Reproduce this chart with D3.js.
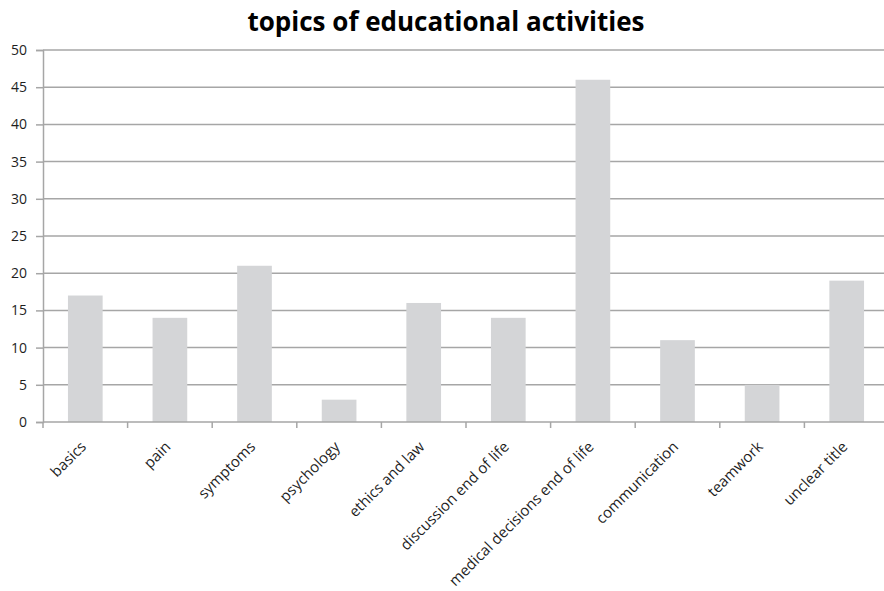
<!DOCTYPE html>
<html>
<head>
<meta charset="utf-8">
<script src="https://cdn.jsdelivr.net/npm/d3@7"></script>
<style>
  html, body { margin: 0; padding: 0; background: #ffffff; }
  svg { display: block; }
</style>
</head>
<body>
<svg id="chart" width="884" height="591"></svg>
<script>
const categories = ["basics", "pain", "symptoms", "psychology", "ethics and law",
  "discussion end of life", "medical decisions end of life", "communication",
  "teamwork", "unclear title"];
const counts = [17, 14, 21, 3, 16, 14, 46, 11, 5, 19];
const yTicks = [0, 5, 10, 15, 20, 25, 30, 35, 40, 45, 50];
const chartTitle = "topics of educational activities";

const svg = d3.select("#chart");
const font = "'Open Sans', 'Liberation Sans', sans-serif";

const x = d3.scaleBand().domain(categories).range([43, 889]).paddingInner(0.59).paddingOuter(0.295);
const band = d3.scaleBand().domain(categories).range([43, 889]);
const y = d3.scaleLinear().domain([0, 50]).range([422, 50]);

// horizontal gridlines
svg.append("g").selectAll("line").data(yTicks.filter(d => d > 0)).join("line")
  .attr("x1", 43).attr("x2", 884)
  .attr("y1", d => y(d)).attr("y2", d => y(d))
  .attr("stroke", "#a6a6a6").attr("stroke-width", 1.5);

// bars
svg.append("g").selectAll("rect").data(categories).join("rect")
  .attr("x", d => x(d))
  .attr("width", x.bandwidth())
  .attr("y", (d, i) => y(counts[i]))
  .attr("height", (d, i) => y(0) - y(counts[i]))
  .attr("fill", "#d4d5d7");

// y axis
const yAxis = svg.append("g").attr("transform", "translate(43,0)")
  .call(d3.axisLeft(y).tickValues(yTicks).tickSize(7).tickPadding(9));
yAxis.select(".domain").attr("stroke", "#a6a6a6").attr("stroke-width", 1.5);
yAxis.selectAll(".tick line").attr("stroke", "#a6a6a6").attr("stroke-width", 1.5);
yAxis.selectAll(".tick text").attr("font-family", font).attr("font-size", 14).attr("fill", "#1e1e1e");

// x axis baseline and boundary ticks
svg.append("line").attr("x1", 43).attr("x2", 884).attr("y1", y(0)).attr("y2", y(0))
  .attr("stroke", "#a6a6a6").attr("stroke-width", 1.5);
svg.append("g").selectAll("line").data(categories).join("line")
  .attr("x1", d => band(d)).attr("x2", d => band(d))
  .attr("y1", y(0)).attr("y2", y(0) + 6)
  .attr("stroke", "#a6a6a6").attr("stroke-width", 1.5);

// rotated category labels
svg.append("g").selectAll("text").data(categories).join("text")
  .attr("transform", d => `translate(${band(d) + band.bandwidth() / 2 - 2},${y(0) + 22}) rotate(-45)`)
  .attr("text-anchor", "end")
  .attr("dy", "0.35em")
  .attr("font-family", font).attr("font-size", 15).attr("fill", "#1e1e1e")
  .text(d => d);

// title
svg.append("text")
  .attr("x", 446).attr("y", 31)
  .attr("text-anchor", "middle")
  .attr("font-family", font).attr("font-weight", "bold").attr("font-size", 26).attr("fill", "#000")
  .text(chartTitle);
</script>
</body>
</html>
